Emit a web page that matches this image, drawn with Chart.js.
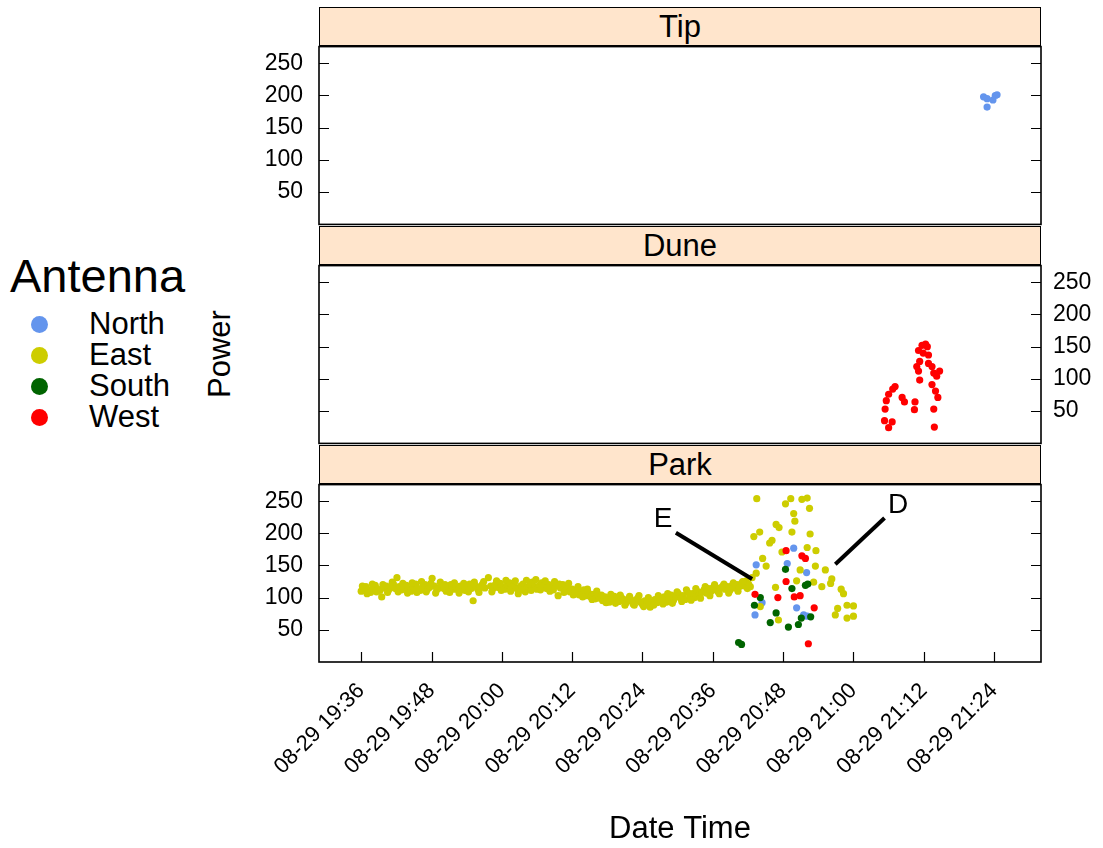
<!DOCTYPE html>
<html>
<head>
<meta charset="utf-8">
<script src="https://cdn.jsdelivr.net/npm/chart.js@4.4.1/dist/chart.umd.min.js"></script>
<style>
  html, body { margin: 0; padding: 0; background: #fff; }
  body { width: 1103px; height: 848px; position: relative; overflow: hidden;
         font-family: "Liberation Sans", Arial, Helvetica, sans-serif; color: #000; }
  canvas { position: absolute; left: 259px; }
  .strip { position: absolute; left: 319px; width: 722px; height: 39px; box-sizing: border-box;
           background: #ffe5cc; border: 1.5px solid #000; text-align: center;
           font-size: 31px; line-height: 38px; }
  .txt { position: absolute; white-space: nowrap; }
  .dot { position: absolute; width: 17px; height: 17px; border-radius: 50%; }
</style>
</head>
<body>
<canvas id="tip" width="842" height="185" style="top:43px"></canvas>
<canvas id="dune" width="842" height="185" style="top:262px"></canvas>
<canvas id="park" width="842" height="367" style="top:481px"></canvas>

<div class="strip" style="top:7px">Tip</div>
<div class="strip" style="top:226px">Dune</div>
<div class="strip" style="top:445px">Park</div>

<div class="txt" style="left:220px; top:354px; font-size:31px; transform: translate(-50%, -50%) rotate(-90deg);">Power</div>

<div class="txt" style="left:10px; top:252px; font-size:47px; line-height:47px;">Antenna</div>
<div id="legend"></div>

<script>
// ─── axes ────────────────────────────────────────────────────────
// time is kept as minutes after 19:00 on 08-29
const timeMin = 28.8;
const timeMax = 152.0;
const timeTicks = [36, 48, 60, 72, 84, 96, 108, 120, 132, 144];
const timeTickLabels = ['08-29 19:36', '08-29 19:48', '08-29 20:00', '08-29 20:12', '08-29 20:24',
                        '08-29 20:36', '08-29 20:48', '08-29 21:00', '08-29 21:12', '08-29 21:24'];
const powerMin = -0.4;
const powerMax = 276;
const powerTicks = [50, 100, 150, 200, 250];

const antennaNames = ['North', 'East', 'South', 'West'];
const antennaColors = ['#6495ED', '#CDCD00', '#006400', '#FF0000'];

// ─── Tip ─────────────────────────────────────────────────────────
const tipNorthTime  = [142.2, 142.8, 144.2, 144.5, 143.8, 142.8];
const tipNorthPower = [198, 195, 200, 201, 193, 182];

// ─── Dune ────────────────────────────────────────────────────────
const duneWestTime  = [131.7, 132.3, 132.6, 131.1, 131.9, 132.8, 131.3, 132.8, 130.8, 131.1, 133.4,
                       133.7, 134.7, 134.2, 131.3, 133.4, 134.0, 134.4, 133.7, 133.8, 127.1, 126.7,
                       126.0, 125.6, 128.3, 128.7, 130.5, 130.4, 125.4, 125.3, 126.6, 126.0];
const duneWestPower = [152, 154, 150, 144, 140, 137, 127, 124, 119, 112, 119,
                       109, 112, 104, 98, 91, 81, 71, 53, 25, 88, 84,
                       76, 66, 71, 64, 64, 52, 53, 35, 33, 24];

// ─── Park ────────────────────────────────────────────────────────
const parkEastTime = [
  36.0, 36.4, 36.8, 37.2, 37.6, 38.0, 38.4, 38.8, 39.2, 39.5, 39.9, 40.3, 40.7, 41.1, 41.5, 41.8,
  42.1, 42.5, 42.9, 43.3, 43.7, 44.1, 44.5, 44.9, 45.3, 45.7, 46.1, 46.5, 46.9, 47.3, 47.7, 48.1,
  48.5, 48.9, 49.3, 49.7, 50.1, 50.5, 50.9, 51.3, 51.7, 52.1, 52.5, 52.9, 53.3, 53.7, 54.1, 54.5,
  54.8, 55.1, 55.5, 55.9, 56.3, 56.7, 57.1, 57.7, 58.1, 58.5, 58.9, 59.3, 59.7, 60.1, 60.5, 60.9,
  61.3, 61.7, 62.1, 62.5, 62.8, 63.2, 63.6, 64.0, 64.4, 64.8, 65.2, 65.6, 66.0, 66.4, 66.8, 67.2,
  67.6, 68.0, 68.4, 68.8, 69.2, 69.6, 70.0, 70.4, 70.8, 71.2, 71.6, 72.0, 72.4, 72.8, 73.2, 73.6,
  74.0, 74.4, 74.8, 75.2, 75.6, 76.0, 76.4, 76.8, 77.2, 77.6, 78.0, 78.4, 78.8, 79.2, 79.6, 80.0,
  80.4, 80.8, 81.2, 81.6, 82.0, 82.4, 82.8, 83.2, 83.6, 84.0, 84.4, 84.8, 85.3, 85.7, 86.1, 86.5,
  86.9, 87.3, 87.7, 88.1, 88.5, 88.9, 89.3, 89.7, 90.1, 90.5, 90.9, 91.3, 91.7, 92.1, 92.5, 92.9,
  93.3, 93.7, 94.1, 94.5, 94.9, 95.3, 95.7, 96.1, 96.5, 96.9, 97.3, 97.7, 98.1, 98.5, 98.9, 99.3,
  99.7, 100.1, 100.5, 100.9, 101.3, 101.7, 102.1,
  // second antenna reading in the same band
  36.2, 37.0, 37.9, 38.6, 39.7, 40.5, 41.3, 42.3, 43.1, 43.9, 44.7, 45.5, 46.3, 47.1, 47.9, 48.7,
  49.5, 50.3, 51.1, 51.9, 52.7, 53.5, 54.3, 55.3, 56.1, 56.9, 58.3, 59.1, 59.9, 60.7, 61.5, 62.3,
  63.4, 64.2, 65.0, 65.8, 66.6, 67.4, 68.2, 69.0, 69.8, 70.6, 71.4, 72.2, 73.0, 73.8, 74.6, 75.4,
  76.2, 77.0, 77.8, 78.6, 79.4, 80.2, 81.0, 81.8, 82.6, 83.4, 84.2, 85.0, 85.9, 86.7, 87.5, 88.3,
  89.1, 89.9, 90.7, 91.5, 92.3, 93.1, 93.9, 94.7, 95.5, 96.3, 97.1, 97.9, 98.7, 99.5, 100.3, 101.1,
  101.9,
  // burst after 20:42
  103.5, 108.4, 109.3, 111.2, 112.1, 112.5, 109.8, 110.0, 106.8, 107.3, 109.5, 112.6, 104.0, 103.0,
  106.1, 105.7, 112.1, 113.6, 107.8, 104.5, 105.1, 110.9, 113.5, 115.2, 103.4, 102.7, 110.3, 113.2,
  116.3, 116.1, 114.6, 102.4, 106.7, 117.9, 118.3, 104.1, 117.3, 116.9, 118.9, 120.0, 118.9, 120.0,
  107.2];
const parkEastPower = [
  110, 114, 117, 112, 108, 116, 119, 113, 111, 101, 115, 118, 112, 116, 121, 114,
  131, 117, 112, 115, 119, 113, 110, 116, 121, 114, 111, 117, 120, 113, 116, 130,
  118, 112, 115, 119, 114, 110, 116, 120, 113, 117, 112, 118, 115, 111, 117, 121,
  114, 95, 118, 113, 117, 121, 115, 131, 118, 114, 120, 116, 122, 117, 113, 119,
  123, 116, 120, 114, 106, 118, 121, 109, 116, 120, 124, 117, 113, 119, 123, 118,
  114, 120, 116, 112, 118, 103, 115, 120, 111, 116, 109, 113, 107, 111, 104, 108,
  112, 103, 107, 101, 105, 98, 103, 99, 95, 101, 97, 93, 99, 102, 96, 94,
  100, 97, 92, 98, 95, 90, 96, 99, 93, 89, 95, 91, 85, 93, 97, 92,
  99, 95, 101, 93, 98, 104, 96, 101, 106, 99, 103, 97, 108, 102, 106, 100,
  110, 105, 108, 112, 107, 114, 110, 116, 112, 109, 115, 118, 113, 117, 111, 119,
  115, 120, 117, 122, 118, 126, 121,
  118, 106, 121, 109, 120, 108, 124, 109, 122, 107, 123, 108, 125, 109, 122, 107,
  124, 120, 108, 123, 107, 122, 109, 124, 108, 125, 109, 126, 111, 127, 110, 126,
  112, 127, 111, 128, 112, 126, 110, 125, 121, 108, 122, 104, 117, 101, 113, 97,
  110, 104, 92, 105, 91, 104, 88, 102, 88, 103, 86, 100, 88, 103, 90, 106,
  91, 109, 94, 112, 96, 114, 99, 117, 103, 120, 106, 121, 107, 123, 110, 125,
  114,
  254, 246, 254, 253, 255, 239, 231, 219, 214, 209, 202, 199, 202, 195,
  189, 185, 178, 173, 171, 161, 149, 143, 149, 143, 138, 131, 126, 124,
  129, 122, 117, 117, 116, 113, 106, 86, 83, 73, 88, 87, 68, 71,
  65];
const parkNorthTime  = [109.8, 103.4, 108.7, 112.0, 104.4, 110.3, 103.2, 111.5, 112.1];
const parkNorthPower = [177, 151, 153, 139, 92, 84, 73, 73, 71];
const parkSouthTime  = [108.4, 104.1, 103.1, 109.5, 111.8, 112.2, 106.8, 105.8, 108.9, 110.6, 111.1, 112.7, 100.4, 100.9];
const parkSouthPower = [144, 100, 88, 114, 119, 121, 76, 61, 54, 58, 68, 70, 30, 27];
const parkWestTime   = [108.5, 111.2, 111.8, 108.5, 103.2, 107.1, 109.9, 110.9, 113.3, 112.3];
const parkWestPower  = [173, 165, 161, 125, 105, 100, 101, 103, 84, 28];

// callouts E and D in the Park panel
const calloutLabels    = ['E', 'D'];
const calloutFromTime  = [89.7, 125.3];
const calloutFromPower = [201, 224];
const calloutToTime    = [102.7, 116.9];
const calloutToPower   = [129, 152];
const calloutTextTime  = [87.5, 127.6];
const calloutTextPower = [222, 244];

// ─── shared look ─────────────────────────────────────────────────
Chart.defaults.font.family = '"Liberation Sans", Arial, Helvetica, sans-serif';
Chart.defaults.color = '#000';
const TICK = 10;

const zip = (xs, ys) => xs.map((x, i) => ({ x, y: ys[i] }));

function pointSet(name, xs, ys) {
  const k = antennaNames.indexOf(name);
  return {
    label: name,
    data: zip(xs, ys),
    backgroundColor: antennaColors[k],
    borderWidth: 0,
    pointRadius: 3.6,
    pointHoverRadius: 3.6,
    order: 3 - k,
  };
}

// frame round the panel with inward tick marks, as lattice draws them
const panelFrame = {
  id: 'panelFrame',
  afterDatasetsDraw(chart, args, opts) {
    const { ctx, chartArea: a, scales } = chart;
    ctx.save();
    ctx.strokeStyle = '#000';
    ctx.lineWidth = 1.2;
    ctx.beginPath();
    for (const v of powerTicks) {
      const y = Math.round(scales.y.getPixelForValue(v)) + 0.5;
      ctx.moveTo(a.left, y); ctx.lineTo(a.left + TICK, y);
      ctx.moveTo(a.right, y); ctx.lineTo(a.right - TICK, y);
    }
    if (opts.xTicks) {
      for (const v of timeTicks) {
        const x = Math.round(scales.x.getPixelForValue(v)) + 0.5;
        ctx.moveTo(x, a.bottom); ctx.lineTo(x, a.bottom - TICK);
      }
    }
    ctx.stroke();
    ctx.lineWidth = 1.6;
    ctx.strokeRect(a.left, a.top, a.width, a.height);
    ctx.restore();
  },
};

const calloutText = {
  id: 'calloutText',
  afterDatasetsDraw(chart) {
    const { ctx, scales } = chart;
    ctx.save();
    ctx.fillStyle = '#000';
    ctx.font = '28px "Liberation Sans", Arial, sans-serif';
    ctx.textAlign = 'center';
    ctx.textBaseline = 'middle';
    calloutLabels.forEach((t, i) => {
      ctx.fillText(t, scales.x.getPixelForValue(calloutTextTime[i]), scales.y.getPixelForValue(calloutTextPower[i]));
    });
    ctx.restore();
  },
};

function makePanel(id, datasets, side, showX) {
  const pad = { top: 2, bottom: showX ? 0 : 2, left: side === 'right' ? 60 : 0, right: side === 'left' ? 60 : 0 };
  return new Chart(document.getElementById(id), {
    type: 'scatter',
    data: { datasets },
    options: {
      responsive: false,
      animation: false,
      events: [],
      layout: { padding: pad },
      plugins: { legend: { display: false }, tooltip: { enabled: false }, panelFrame: { xTicks: showX } },
      scales: {
        x: {
          type: 'linear', min: timeMin, max: timeMax, display: showX,
          grid: { display: false }, border: { display: false },
          ticks: {
            autoSkip: false, minRotation: 45, maxRotation: 45, padding: 8,
            font: { size: 22 },
            callback: (v, i) => timeTickLabels[i],
          },
          title: { display: true, text: 'Date Time', font: { size: 31 }, padding: { top: 0, bottom: 0 } },
          afterBuildTicks: s => { s.ticks = timeTicks.map(v => ({ value: v })); },
          afterFit: s => {
            if (!showX) return;
            s.height = 186; s.paddingLeft = 0; s.paddingRight = 0;
          },
        },
        y: {
          type: 'linear', position: side, min: powerMin, max: powerMax,
          grid: { display: false }, border: { display: false },
          ticks: { padding: side === 'left' ? 8 : 4, font: { size: 23 } },
          afterBuildTicks: s => { s.ticks = powerTicks.map(v => ({ value: v })); },
          afterFit: s => { s.width = 60; s.paddingTop = 0; s.paddingBottom = 0; },
        },
      },
    },
    plugins: showX ? [panelFrame, calloutText] : [panelFrame],
  });
}

makePanel('tip', [pointSet('North', tipNorthTime, tipNorthPower)], 'left', false);
makePanel('dune', [pointSet('West', duneWestTime, duneWestPower)], 'right', false);

const calloutLines = calloutLabels.map((t, i) => ({
  label: 'callout ' + t,
  data: zip([calloutFromTime[i], calloutToTime[i]], [calloutFromPower[i], calloutToPower[i]]),
  showLine: true,
  borderColor: '#000',
  borderWidth: 4,
  pointRadius: 0,
  order: -1,
}));

makePanel('park', [
  pointSet('North', parkNorthTime, parkNorthPower),
  pointSet('East', parkEastTime, parkEastPower),
  pointSet('South', parkSouthTime, parkSouthPower),
  pointSet('West', parkWestTime, parkWestPower),
  ...calloutLines,
], 'left', true);

// key on the left
const legend = document.getElementById('legend');
const keyRows = [324, 355, 386, 417];
antennaNames.forEach((name, i) => {
  const dot = document.createElement('div');
  dot.className = 'dot';
  dot.style.left = (39 - 8.5) + 'px';
  dot.style.top = (keyRows[i] - 8.5) + 'px';
  dot.style.background = antennaColors[i];
  legend.appendChild(dot);
  const label = document.createElement('div');
  label.className = 'txt';
  label.textContent = name;
  label.style.left = '89px';
  label.style.top = (keyRows[i] - 16) + 'px';
  label.style.fontSize = '31px';
  label.style.lineHeight = '31px';
  legend.appendChild(label);
});
</script>
</body>
</html>
